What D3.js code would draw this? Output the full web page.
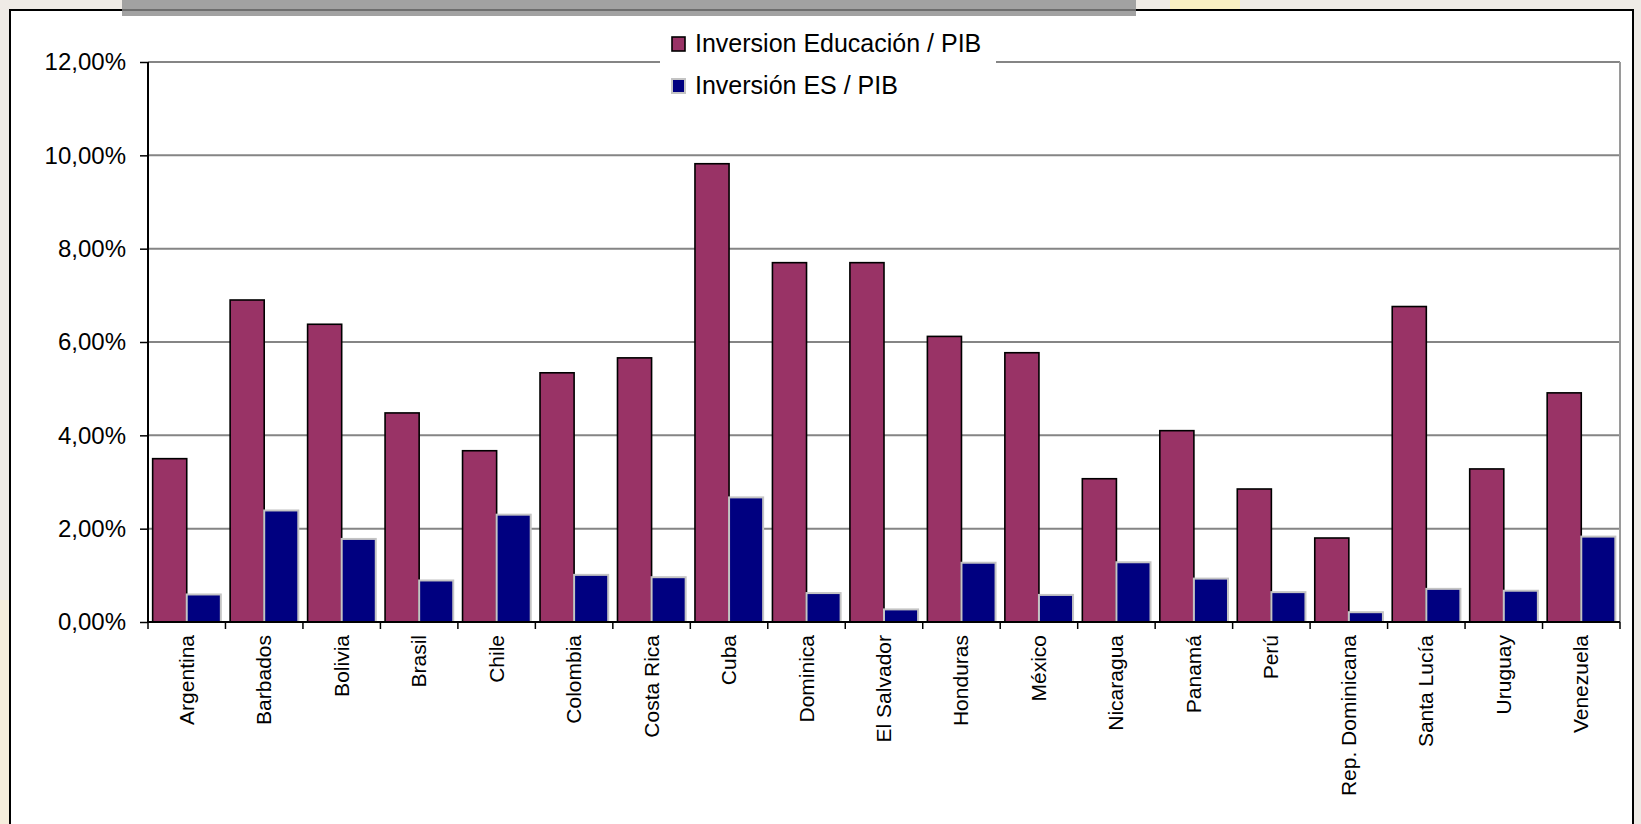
<!DOCTYPE html>
<html>
<head>
<meta charset="utf-8">
<script src="https://cdn.jsdelivr.net/npm/d3@7"></script>
<style>
  html, body { margin: 0; padding: 0; background: #efebe6; }
  svg { display: block; font-family: "Liberation Sans", Arial, sans-serif; }
</style>
</head>
<body>
<svg id="chart" width="1641" height="824"></svg>
<script>
const paises = ["Argentina", "Barbados", "Bolivia", "Brasil", "Chile", "Colombia", "Costa Rica", "Cuba",
  "Dominica", "El Salvador", "Honduras", "México", "Nicaragua", "Panamá", "Perú", "Rep. Dominicana",
  "Santa Lucía", "Uruguay", "Venezuela"];
const educacionPib = [3.50, 6.90, 6.38, 4.48, 3.67, 5.34, 5.66, 9.82, 7.70, 7.70, 6.12, 5.77, 3.07, 4.10, 2.85, 1.80, 6.76, 3.28, 4.91];
const esPib = [0.59, 2.39, 1.78, 0.89, 2.30, 1.01, 0.96, 2.67, 0.62, 0.27, 1.27, 0.58, 1.28, 0.93, 0.64, 0.21, 0.71, 0.67, 1.83];
const series = ["Inversion Educación / PIB", "Inversión ES / PIB"];
const yTicks = [0, 2, 4, 6, 8, 10, 12];

const svg = d3.select("#chart");
const margin = {top: 62, right: 21, bottom: 202, left: 148};
const width = 1641, height = 824;

// fondo de la diapositiva
svg.append("rect").attr("x", 1170).attr("y", 0).attr("width", 70).attr("height", 10).attr("fill", "#faf0c4");
svg.append("rect").attr("x", 0).attr("y", 600).attr("width", 10).attr("height", 224).attr("fill", "#f6eedd");
svg.append("rect")
    .attr("x", 10).attr("y", 10).attr("width", 1623).attr("height", 830)
    .attr("fill", "#fff").attr("stroke", "#000").attr("stroke-width", 2);
svg.append("rect").attr("x", 122).attr("y", 0).attr("width", 1014).attr("height", 16).attr("fill", "#a2a2a2");
svg.append("line").attr("x1", 122).attr("x2", 1136).attr("y1", 10).attr("y2", 10)
    .attr("stroke", "#6e6e6e").attr("stroke-width", 2);

const x0 = d3.scaleBand(paises, [margin.left, width - margin.right]).paddingInner(0.12).paddingOuter(0.06);
const band = d3.scaleBand(paises, [margin.left, width - margin.right]);
const x1 = d3.scaleBand([0, 1], [0, x0.bandwidth()]);
const y = d3.scaleLinear([0, 12], [height - margin.bottom, margin.top]);

// rejilla
svg.append("g")
  .selectAll("line")
  .data(yTicks.slice(1))
  .join("line")
    .attr("x1", margin.left).attr("x2", width - margin.right)
    .attr("y1", d => y(d)).attr("y2", d => y(d))
    .attr("stroke", "#858585").attr("stroke-width", 2);
svg.append("line")
    .attr("x1", width - margin.right).attr("x2", width - margin.right)
    .attr("y1", y(12)).attr("y2", y(0))
    .attr("stroke", "#9a9a9a").attr("stroke-width", 2);

const colors = ["#993366", "#000080"];
const strokes = ["#000", "#c4c4c4"];
const values = [educacionPib, esPib];

svg.append("g")
  .selectAll("g")
  .data(paises)
  .join("g")
    .attr("transform", d => `translate(${x0(d)},0)`)
  .selectAll("rect")
  .data((d, i) => values.map((v, k) => ({k, v: v[i]})))
  .join("rect")
    .attr("x", d => x1(d.k))
    .attr("y", d => y(d.v))
    .attr("width", x1.bandwidth())
    .attr("height", d => y(0) - y(d.v))
    .attr("fill", d => colors[d.k])
    .attr("stroke", d => strokes[d.k])
    .attr("stroke-width", d => d.k ? 2 : 1.6);

// eje Y
const yAxis = svg.append("g")
    .attr("transform", `translate(${margin.left},0)`)
    .call(d3.axisLeft(y).tickValues(yTicks).tickSize(8).tickPadding(14)
      .tickFormat(d => d3.format(".2f")(d).replace(".", ",") + "%"));
yAxis.select(".domain").attr("stroke", "#000").attr("stroke-width", 2).attr("d", `M0,${y(12)}V${y(0)}`);
yAxis.selectAll(".tick line").attr("stroke", "#000").attr("stroke-width", 1.5);
yAxis.selectAll(".tick text").attr("font-size", 24).attr("fill", "#000")
    .attr("font-family", "Liberation Sans, Arial, sans-serif");

// eje X
const xAxis = svg.append("g")
    .attr("transform", `translate(0,${y(0)})`);
xAxis.append("line")
    .attr("x1", margin.left).attr("x2", width - margin.right)
    .attr("stroke", "#000").attr("stroke-width", 2);
xAxis.selectAll(".tk")
  .data(paises.concat(["_fin"]))
  .join("line")
    .attr("x1", (d, i) => i < paises.length ? band(d) : band.range()[1])
    .attr("x2", (d, i) => i < paises.length ? band(d) : band.range()[1])
    .attr("y1", 0).attr("y2", 7)
    .attr("stroke", "#000").attr("stroke-width", 1.5);
xAxis.selectAll("text")
  .data(paises)
  .join("text")
    .attr("transform", d => `translate(${band(d) + band.bandwidth() / 2 + 7},13) rotate(-90)`)
    .attr("text-anchor", "end")
    .attr("font-size", 21)
    .attr("fill", "#000")
    .text(d => d);

// leyenda
const legend = svg.append("g");
legend.append("rect").attr("x", 660).attr("y", 22).attr("width", 336).attr("height", 82).attr("fill", "#fff");
series.forEach((s, i) => {
  const row = legend.append("g").attr("transform", `translate(672,${37 + i * 42})`);
  row.append("rect").attr("x", 0).attr("y", 0).attr("width", 13).attr("height", 14)
      .attr("fill", colors[i]).attr("stroke", strokes[i]).attr("stroke-width", i ? 2 : 1.6);
  row.append("text").attr("x", 23).attr("y", 15).attr("font-size", 25).attr("fill", "#000").text(s);
});
</script>
</body>
</html>
